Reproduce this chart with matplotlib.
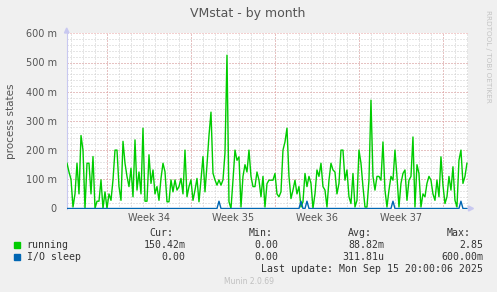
import matplotlib
matplotlib.use("Agg")
import matplotlib.pyplot as plt
import numpy as np
from matplotlib.patches import Rectangle, Polygon

# running processes (milli), one sample every 4 hours
running = [
    155, 125, 100, 5, 50, 155, 50, 250, 200, 0, 155, 155, 50, 178, 0, 25, 25, 98, 0, 57,
    0, 50, 28, 98, 200, 200, 75, 28, 230, 155, 110, 75, 138, 40, 235, 63, 125, 50, 275, 25,
    25, 184, 86, 132, 50, 75, 28, 103, 155, 126, 23, 23, 98, 57, 98, 63, 75, 103, 50, 200,
    40, 75, 98, 28, 63, 103, 23, 98, 178, 57, 149, 250, 330, 121, 98, 80, 98, 80, 98, 190,
    525, 23, 0, 97, 200, 165, 177, 5, 110, 150, 125, 200, 110, 75, 75, 125, 97, 40, 110, 5,
    85, 97, 97, 97, 120, 50, 40, 57, 200, 228, 275, 110, 34, 63, 97, 50, 75, 5, 23, 120,
    75, 110, 86, 0, 50, 132, 110, 155, 75, 63, 5, 97, 155, 132, 125, 50, 86, 200, 200, 97,
    132, 40, 17, 120, 5, 28, 200, 155, 75, 5, 5, 97, 371, 110, 63, 110, 110, 97, 228, 63,
    5, 63, 110, 97, 200, 110, 5, 86, 120, 132, 28, 97, 110, 245, 5, 150, 120, 5, 50, 40,
    86, 110, 97, 50, 28, 97, 40, 177, 80, 17, 40, 110, 63, 143, 28, 5, 165, 200, 86, 110,
    155,
]
# processes in I/O sleep (milli)
io_sleep = [
    0, 0, 0, 0, 0, 0, 0, 0, 0, 0, 0, 0, 0, 0, 0, 0, 0, 0, 0, 0,
    0, 0, 0, 0, 0, 0, 0, 0, 0, 0, 0, 0, 0, 0, 0, 0, 0, 0, 0, 0,
    0, 0, 0, 0, 0, 0, 0, 0, 0, 0, 0, 0, 0, 0, 0, 0, 0, 0, 0, 0,
    0, 0, 0, 0, 0, 0, 0, 0, 0, 0, 0, 0, 0, 0, 0, 0, 25, 0, 0, 0,
    0, 0, 0, 0, 0, 0, 0, 0, 0, 0, 0, 0, 0, 0, 0, 0, 0, 0, 0, 0,
    0, 0, 0, 0, 0, 0, 0, 0, 0, 0, 0, 0, 0, 0, 0, 0, 0, 25, 0, 0,
    25, 0, 0, 0, 0, 0, 0, 0, 0, 0, 0, 0, 0, 0, 0, 0, 0, 0, 0, 0,
    0, 0, 0, 0, 0, 0, 0, 0, 0, 0, 0, 0, 0, 0, 0, 0, 0, 0, 0, 0,
    0, 0, 0, 25, 0, 0, 0, 0, 0, 0, 0, 0, 0, 0, 0, 0, 0, 0, 0, 0,
    0, 0, 0, 0, 0, 0, 0, 0, 0, 0, 0, 0, 0, 0, 0, 0, 0, 25, 0, 0,
    0,
]
week_labels = ["Week 34", "Week 35", "Week 36", "Week 37"]
y_ticks = [0, 100, 200, 300, 400, 500, 600]
legend_names = ["running", "I/O sleep"]
legend_colors = ["#00cc00", "#0066b3"]
cur = ["150.42m", "0.00"]
mins = ["0.00", "0.00"]
avg = ["88.82m", "311.81u"]
maxs = ["2.85", "600.00m"]

W, H = 497, 292
fig = plt.figure(figsize=(W / 100, H / 100), dpi=100, facecolor="#f0f0f0")

def fx(x):
    return x / W

def fy(y):
    return 1 - y / H

ax = fig.add_axes([fx(66.7), fy(208.5), (468.3 - 66.7) / W, (208.5 - 33.3) / H])
ax.set_facecolor("white")

t_start = 0.6          # hours from left edge to first sample
step = 4.0             # hours per sample
span = 33.47 * 24      # hours shown
first_week = 81.2      # hours to first Monday
hours = t_start + np.arange(len(running)) * step

# dotted grid
dot = (0, (1, 2))
for d in np.arange(first_week % 24, span, 24):
    ax.axvline(d, color="#cccccc", lw=0.72, ls=dot, zorder=0)
for y in range(20, 600, 20):
    ax.axhline(y, color="#cccccc", lw=0.72, ls=dot, zorder=0)
for d in np.arange(first_week, span, 24 * 7):
    ax.axvline(d, color="#e8a0a0", lw=0.72, ls=dot, zorder=1)
for y in y_ticks[1:]:
    ax.axhline(y, color="#e8a0a0", lw=0.72, ls=dot, zorder=1)

ax.plot(hours, running, color=legend_colors[0], lw=1.0, zorder=3)
ax.plot(hours, io_sleep, color=legend_colors[1], lw=1.0, zorder=4)

ax.set_xlim(0, span)
ax.set_ylim(0, 600)
for s in ["top", "right", "bottom"]:
    ax.spines[s].set_visible(False)
ax.spines["left"].set_color("#c8c8f0")
ax.spines["left"].set_linewidth(0.8)

ax.set_yticks(y_ticks, [f"{v} m" if v else "0" for v in y_ticks])
week_centers = [first_week + 84 + 168 * k for k in range(len(week_labels))]
ax.set_xticks(week_centers, week_labels)
ax.tick_params(length=0, labelsize=7, colors="#555555", pad=3.5)
ax.tick_params(axis="y", pad=7)

# axis arrows
fig.patches.append(Polygon([[fx(64.5), fy(33)], [fx(69), fy(33)], [fx(66.7), fy(28)]],
                           closed=True, transform=fig.transFigure, color="#c8c8f0"))
fig.patches.append(Polygon([[fx(468.5), fy(206)], [fx(468.5), fy(211)], [fx(473.5), fy(208.5)]],
                           closed=True, transform=fig.transFigure, color="#c8c8f0"))

fig.text(fx(248), fy(13.5), "VMstat - by month", ha="center", va="center",
         fontsize=9, color="#555555")
fig.text(fx(11.5), fy(121), "process states", rotation=90, ha="center", va="center",
         fontsize=7.5, color="#555555")
fig.text(fx(488), fy(56), "RRDTOOL / TOBI OETIKER", rotation=270, ha="center", va="center",
         fontsize=5.2, color="#c4c4c4")

mono = dict(family="DejaVu Sans Mono", fontsize=7.1, color="#333333", va="center")
fig.text(fx(149), fy(233), "Cur:", **mono)
fig.text(fx(248.3), fy(233), "Min:", **mono)
fig.text(fx(347.7), fy(233), "Avg:", **mono)
fig.text(fx(446.7), fy(233), "Max:", **mono)
rows_y = [245, 257]
for k in range(2):
    yy = rows_y[k]
    fig.patches.append(Rectangle((fx(14), fy(yy + 3)), 6 / W, 6 / H,
                                 transform=fig.transFigure, color=legend_colors[k]))
    fig.text(fx(26.7), fy(yy), legend_names[k], **mono)
    fig.text(fx(185.5), fy(yy), cur[k], ha="right", **mono)
    fig.text(fx(278), fy(yy), mins[k], ha="right", **mono)
    fig.text(fx(384), fy(yy), avg[k], ha="right", **mono)
    fig.text(fx(483.5), fy(yy), maxs[k], ha="right", **mono)
fig.text(fx(483), fy(269), "Last update: Mon Sep 15 20:00:06 2025", ha="right", **mono)
fig.text(fx(248.5), fy(281), "Munin 2.0.69", ha="center", va="center",
         fontsize=5.5, color="#c0c0c0")

fig.savefig("out.png", dpi=100, facecolor=fig.get_facecolor())
